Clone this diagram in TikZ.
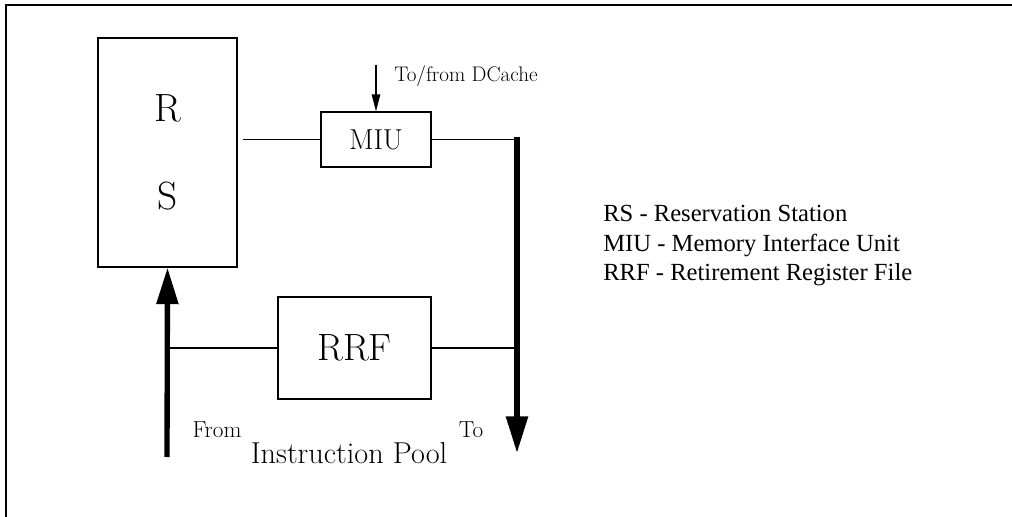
\documentclass[tikz,border=0pt]{standalone}
\usepackage{fontspec}
\newfontfamily\legendfont{Liberation Serif}
\usetikzlibrary{positioning}
\usetikzlibrary{calc,arrows.meta}

\begin{document}
\begin{tikzpicture}[x=0.025cm,y=-0.025cm,
        unit/.style={draw, line width=0.9pt, inner sep=0pt},
        bus/.style={line width=3.8pt, -{Triangle[length=26pt,width=15pt]}},
        wire/.style={line width=1.4pt},
        legend/.style={anchor=base west, inner sep=0pt,
            font=\legendfont\fontsize{17.5}{21}\selectfont}]
    \useasboundingbox (0,0) rectangle (1012,517);
    \draw[line width=1.5pt] (6,517) -- (6,5) -- (1012,5);

    % units
    \node[unit, minimum width=3.475cm, minimum height=5.725cm, align=center,
        font=\fontsize{28}{63}\selectfont] (rs) at (167.5,152.5) {R\\S};
    \node[unit, minimum width=2.75cm, minimum height=1.375cm,
        font=\fontsize{20.5}{24}\selectfont] (miu) at (376,139.5) {MIU};
    \node[unit, minimum width=3.825cm, minimum height=2.55cm,
        font=\fontsize{27}{32}\selectfont] (rrf) at (354.5,348) {RRF};

    \coordinate (bustop) at (517,137);
    \coordinate (busend) at (517,453);
    \coordinate (feed) at (167,457);
    \coordinate (dcache) at (376,65);

    \draw[wire] ([xshift=3.5pt]rs.east |- miu.west) -- (miu.west);
    \draw[wire] (miu.east) -- (miu.east -| bustop);
    \draw[bus] (bustop) -- (busend);
    \draw[wire] (rrf.east) -- (rrf.east -| bustop);
    \draw[wire] (rrf.west) -- (rrf.west -| feed);
    \draw[bus] (feed) -- (rs.south);
    \draw[line width=0.9pt, -{Triangle[length=12pt,width=6pt]}] (dcache) -- (miu.north);

    % labels
    \node[anchor=base west, inner sep=0pt, font=\fontsize{15}{18}\selectfont] (dcachelbl) at (394,82) {To/from DCache};
    \node[anchor=base, font=\fontsize{16.5}{19}\selectfont] (from) at (217,437) {From};
    \node[anchor=base, font=\fontsize{16.5}{19}\selectfont] (to) at (471,437) {To};
    \node[anchor=base, font=\fontsize{21.5}{25}\selectfont] (pool) at (349,463) {Instruction Pool};

    % legend
    \node[legend] (legrs) at (603,222) {RS - Reservation Station};
    \node[legend] (legmiu) at (603,252) {MIU - Memory Interface Unit};
    \node[legend] (legrrf) at (603,281) {RRF - Retirement Register File};
\end{tikzpicture}
\end{document}
